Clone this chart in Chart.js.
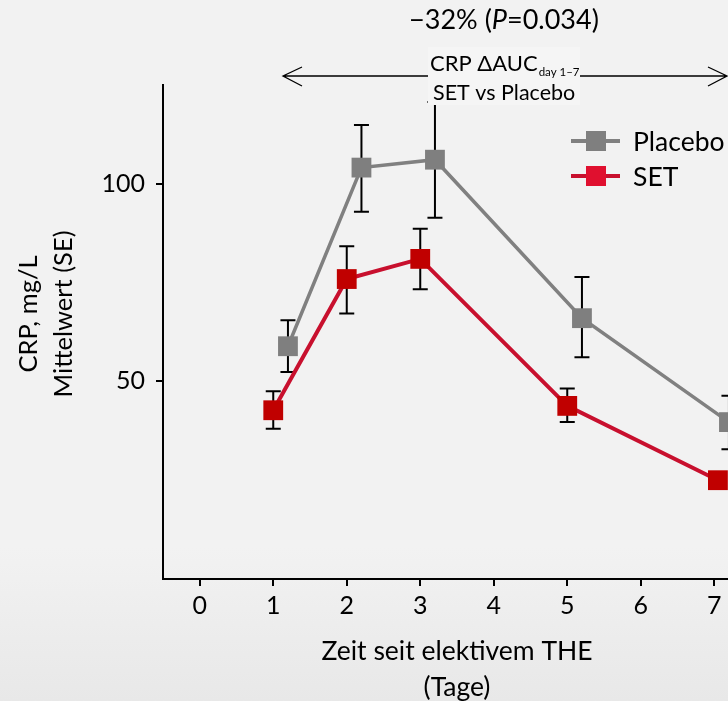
<!DOCTYPE html>
<html>
<head>
<meta charset="utf-8">
<script src="https://cdn.jsdelivr.net/npm/chart.js@4/dist/chart.umd.min.js"></script>
<style>
  html, body { margin: 0; padding: 0; width: 728px; height: 701px; overflow: hidden; }
  body { background: linear-gradient(#f2f2f2 78%, #e8e8e8); }
  #wrap { position: absolute; left: 0; top: 0; width: 800px; height: 701px; }
</style>
</head>
<body>
<div id="wrap"><canvas id="chart" width="800" height="701"></canvas></div>
<script>
// values
const xTicks = [0, 1, 2, 3, 4, 5, 6, 7];
const yTicks = [50, 100];

const placeboDays = [1.2, 2.2, 3.2, 5.2, 7.2];
const placeboMean = [58.9, 104.1, 106.1, 66.0, 39.7];
const placeboHigh = [65.5, 114.9, 120.7, 76.4, 46.4];
const placeboLow  = [52.4, 92.9, 91.4, 56.1, 32.8];

const setDays = [1, 2, 3, 5, 7.05];
const setMean = [42.7, 75.9, 81.0, 43.8, 25.0];
const setHigh = [47.5, 84.2, 88.6, 48.2, 27.0];
const setLow  = [38.0, 67.2, 73.3, 39.7, 23.0];

const FONT = 'Lato, "Open Sans", sans-serif';
const pts = (xs, ys) => xs.map((x, i) => ({ x, y: ys[i] }));

const errorBars = {
  id: 'errorBars',
  beforeDatasetsDraw(chart) {
    const { ctx, scales: { x, y } } = chart;
    const sets = [[placeboDays, placeboHigh, placeboLow], [setDays, setHigh, setLow]];
    ctx.save();
    ctx.strokeStyle = '#000';
    ctx.lineWidth = 2;
    sets.forEach(([xs, hi, lo]) => {
      xs.forEach((v, i) => {
        const px = x.getPixelForValue(v);
        const y1 = y.getPixelForValue(hi[i]);
        const y2 = y.getPixelForValue(lo[i]);
        ctx.beginPath();
        ctx.moveTo(px, y1); ctx.lineTo(px, y2);
        ctx.moveTo(px - 7.5, y1); ctx.lineTo(px + 7.5, y1);
        ctx.moveTo(px - 7.5, y2); ctx.lineTo(px + 7.5, y2);
        ctx.stroke();
      });
    });
    ctx.restore();
  }
};

const extras = {
  id: 'extras',
  afterDraw(chart) {
    const { ctx } = chart;
    ctx.save();
    ctx.fillStyle = '#000';

    // y axis title (two lines, rotated)
    ctx.save();
    ctx.font = '25.5px ' + FONT;
    ctx.textAlign = 'center';
    ctx.textBaseline = 'middle';
    ctx.translate(0, 314);
    ctx.rotate(-Math.PI / 2);
    ctx.fillText('CRP, mg/L', 0, 29);
    ctx.fillText('Mittelwert (SE)', 0, 64);
    ctx.restore();

    // headline
    const hf = '27px ' + FONT, hfi = 'italic 27px ' + FONT;
    ctx.textBaseline = 'alphabetic';
    const a = '\u221232% (', b = 'P', c = '=0.034)';
    ctx.font = hf;
    const wa = ctx.measureText(a).width, wc = ctx.measureText(c).width;
    ctx.font = hfi;
    const wb = ctx.measureText(b).width;
    const tx = 504 - (wa + wb + wc) / 2;
    ctx.font = hf;
    ctx.fillText(a, tx, 29);
    ctx.font = hfi;
    ctx.fillText(b, tx + wa, 29);
    ctx.font = hf;
    ctx.fillText(c, tx + wa + wb, 29);

    // double arrow
    ctx.strokeStyle = '#000';
    ctx.lineWidth = 1.3;
    ctx.beginPath();
    ctx.moveTo(283, 76); ctx.lineTo(727, 76);
    ctx.moveTo(302, 67); ctx.lineTo(283, 76); ctx.lineTo(302, 86);
    ctx.moveTo(708, 67); ctx.lineTo(727, 76); ctx.lineTo(708, 86);
    ctx.stroke();

    // label box
    ctx.fillStyle = '#f5f5f5';
    ctx.fillRect(428, 47, 152, 58);
    ctx.fillStyle = '#000';
    ctx.font = '22px ' + FONT;
    ctx.fillText('CRP \u0394AUC', 430, 71);
    const w1 = ctx.measureText('CRP \u0394AUC').width;
    ctx.font = '11.5px ' + FONT;
    ctx.fillText('day 1\u20137', 430 + w1 + 1, 76);
    ctx.font = '21.5px ' + FONT;
    ctx.fillText('SET vs Placebo', 433, 100);

    // legend
    const items = chart.data.datasets.map((d, i) => ({ label: d.label, line: d.borderColor, box: i === 0 ? '#7f7f7f' : '#e0102f', yy: i === 0 ? 141 : 176 }));
    items.forEach(it => {
      ctx.strokeStyle = it.line;
      ctx.lineWidth = 4;
      ctx.beginPath();
      ctx.moveTo(571, it.yy); ctx.lineTo(620, it.yy);
      ctx.stroke();
      ctx.fillStyle = it.box;
      ctx.fillRect(586, it.yy - 10, 20, 20);
      ctx.fillStyle = '#000';
      ctx.font = '26.5px ' + FONT;
      ctx.textBaseline = 'middle';
      ctx.fillText(it.label, 633, it.yy + 1);
    });
    ctx.restore();
  }
};

new Chart(document.getElementById('chart'), {
  type: 'line',
  data: {
    datasets: [
      {
        label: 'Placebo',
        data: pts(placeboDays, placeboMean),
        borderColor: '#808080',
        backgroundColor: '#7f7f7f',
        borderWidth: 3.5,
        pointStyle: 'rect',
        pointRadius: 14,
        pointBorderWidth: 0,
        pointBackgroundColor: '#7f7f7f',
        tension: 0
      },
      {
        label: 'SET',
        data: pts(setDays, setMean),
        borderColor: '#c8102e',
        backgroundColor: '#c00000',
        borderWidth: 4,
        pointStyle: 'rect',
        pointRadius: 14,
        pointBorderWidth: 0,
        pointBackgroundColor: '#c00000',
        tension: 0
      }
    ]
  },
  options: {
    responsive: false,
    animation: false,
    devicePixelRatio: 1,
    layout: { padding: { top: 85, right: 49, left: 0, bottom: 0 } },
    plugins: { legend: { display: false }, tooltip: { enabled: false } },
    scales: {
      x: {
        type: 'linear',
        min: -0.5,
        max: 7.5,
        afterBuildTicks: s => { s.ticks = xTicks.map(v => ({ value: v })); },
        afterFit: s => { s.height = 122; },
        border: { color: '#000', width: 2 },
        grid: { drawOnChartArea: false, tickLength: 7, color: '#000', lineWidth: 2 },
        ticks: { color: '#000', font: { family: FONT, size: 25 }, padding: 5 },
        title: {
          display: true,
          text: ['Zeit seit elektivem THE', '(Tage)'],
          color: '#000',
          font: { family: FONT, size: 26.5, lineHeight: '36px' },
          padding: { top: 0, bottom: -4 }
        }
      },
      y: {
        min: 0,
        max: 125,
        afterBuildTicks: s => { s.ticks = yTicks.map(v => ({ value: v })); },
        afterFit: s => { s.width = 163; },
        border: { color: '#000', width: 2 },
        grid: { drawOnChartArea: false, tickLength: 7, color: '#000', lineWidth: 2 },
        ticks: { color: '#000', font: { family: FONT, size: 25 }, padding: 11 }
      }
    }
  },
  plugins: [errorBars, extras]
});
</script>
</body>
</html>
